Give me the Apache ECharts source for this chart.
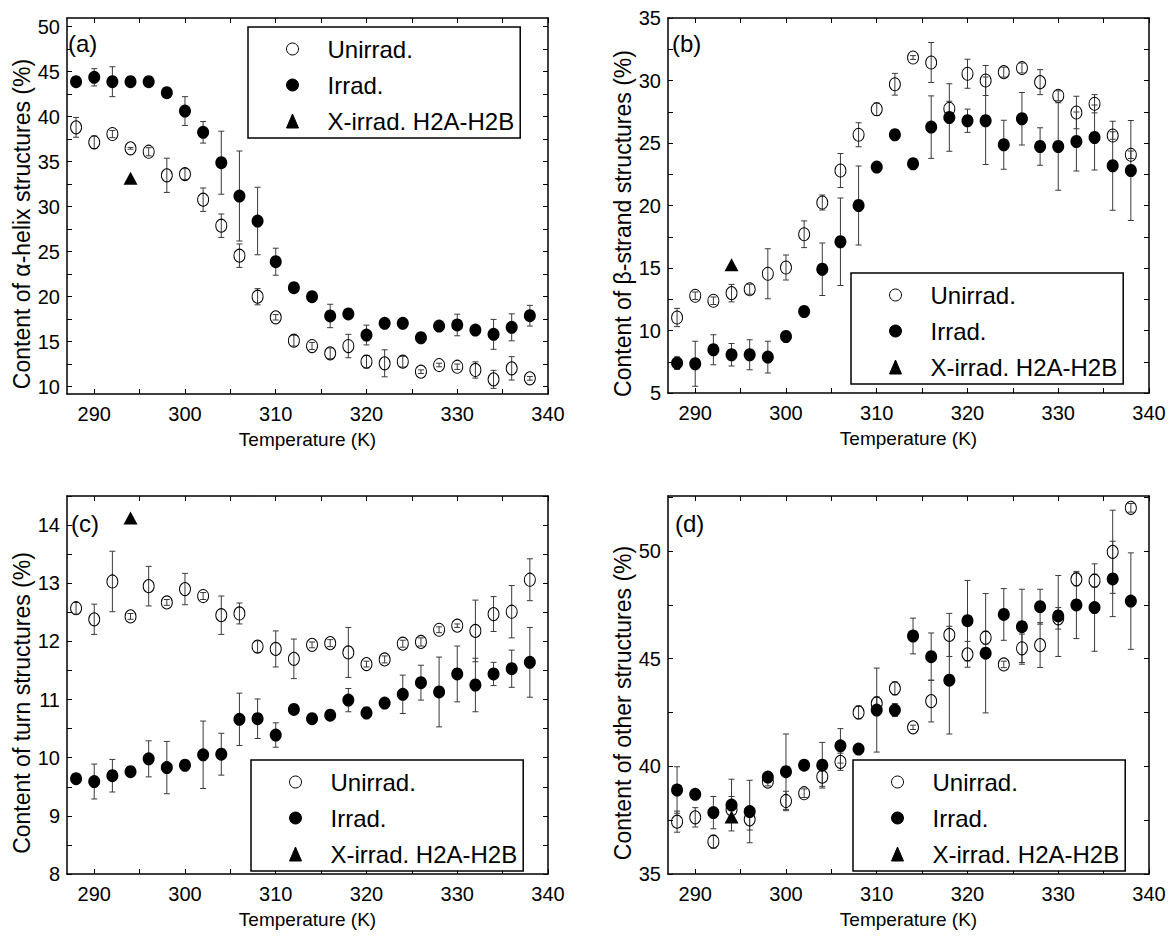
<!DOCTYPE html>
<html><head><meta charset="utf-8">
<script src="https://cdn.jsdelivr.net/npm/echarts@6/dist/echarts.min.js"></script>
<style>html,body{margin:0;padding:0;background:#fff}#c{width:1171px;height:945px}</style>
</head><body><div id="c"></div>
<script>
// ---------------- data ----------------
const temps = [288,290,292,294,296,298,300,302,304,306,308,310,312,314,316,318,320,322,324,326,328,330,332,334,336,338];
const xTickValues = [290,295,300,305,310,315,320,325,330,335,340];
const xLabelValues = [290,300,310,320,330,340];
const triangleTemp = 294;
const seriesNames = ['Unirrad.', 'Irrad.', 'X-irrad. H2A-H2B'];

// (a) alpha-helix
const aUnirrad    = [38.82,37.16,38.08,36.49,36.11,33.49,33.63,30.78,27.89,24.56,20.0,17.71,15.11,14.52,13.71,14.52,12.78,12.6,12.78,11.67,12.41,12.22,11.86,10.82,12.04,10.93];
const aUnirradErr = [1.1,0.7,0.4,0.1,0.45,1.9,0.6,1.3,1.3,1.3,0.9,0.3,0.6,0.4,0.6,1.3,0.7,1.5,0.6,0.2,0.2,0.3,0.9,1.0,1.3,0.2];
const aIrrad      = [43.89,44.38,43.89,43.89,43.89,42.67,40.63,38.27,34.89,31.19,28.41,23.89,21.0,20.0,17.86,18.08,15.74,17.04,17.04,15.44,16.74,16.86,16.3,15.82,16.6,17.89];
const aIrradErr   = [0.2,0.96,1.66,0.1,0.1,0.1,1.6,1.2,3.5,5.0,3.75,1.5,0.1,0.1,1.3,0.1,1.1,0.1,0.1,0.1,0.1,1.2,0.1,1.66,1.5,1.15];
const aTriangle   = 33.16;
const aYTicks  = [10,12.5,15,17.5,20,22.5,25,27.5,30,32.5,35,37.5,40,42.5,45,47.5,50];
const aYLabels = [10,15,20,25,30,35,40,45,50];

// (b) beta-strand
const bUnirrad    = [11.04,12.78,12.38,12.99,13.3,14.54,15.04,17.7,20.24,22.8,25.66,27.7,29.7,31.84,31.44,27.74,30.54,30.0,30.67,31.0,29.87,28.78,27.44,28.14,25.6,24.06];
const bUnirradErr = [0.73,0.3,0.3,0.7,0.4,2.0,1.0,1.07,0.6,1.36,0.96,0.5,0.87,0.15,1.6,0.6,1.16,1.2,0.4,0.4,1.0,0.4,1.3,0.73,0.3,0.3];
const bIrrad      = [7.39,7.34,8.46,8.06,8.06,7.87,9.52,11.52,14.9,17.1,20.0,23.07,25.66,23.34,26.27,27.04,26.78,26.78,24.86,26.94,24.72,24.72,25.12,25.44,23.18,22.8];
const bIrradErr   = [0.5,1.8,1.2,0.9,1.2,1.27,0.2,0.2,2.1,3.5,3.16,0.4,0.2,0.4,2.5,2.7,0.93,3.5,1.96,2.1,1.5,3.5,2.36,2.6,3.56,4.0];
const bTriangle   = 15.26;
const bYTicks  = [5,7.5,10,12.5,15,17.5,20,22.5,25,27.5,30,32.5,35];
const bYLabels = [5,10,15,20,25,30,35];

// (c) turn
const cUnirrad    = [12.57,12.38,13.03,12.43,12.95,12.67,12.9,12.78,12.45,12.48,11.91,11.87,11.7,11.94,11.97,11.81,11.61,11.69,11.96,11.99,12.2,12.27,12.18,12.47,12.51,13.06];
const cUnirradErr = [0.1,0.26,0.52,0.05,0.34,0.05,0.27,0.06,0.33,0.18,0.1,0.31,0.34,0.05,0.06,0.43,0.05,0.06,0.06,0.07,0.05,0.03,0.53,0.3,0.45,0.36];
const cIrrad      = [9.64,9.59,9.69,9.76,9.98,9.83,9.87,10.05,10.06,10.66,10.67,10.39,10.83,10.67,10.73,10.99,10.77,10.94,11.09,11.29,11.13,11.44,11.25,11.44,11.53,11.64];
const cIrradErr   = [0.05,0.3,0.28,0.05,0.31,0.45,0.05,0.58,0.36,0.45,0.34,0.21,0.05,0.05,0.05,0.2,0.1,0.05,0.33,0.3,0.6,0.48,0.46,0.2,0.32,0.6];
const cTriangle   = 14.12;
const cYTicks  = [8,8.5,9,9.5,10,10.5,11,11.5,12,12.5,13,13.5,14,14.5];
const cYLabels = [8,9,10,11,12,13,14];

// (d) other
const dUnirrad    = [37.43,37.63,36.5,38.0,37.54,39.29,38.39,38.75,39.52,40.21,42.5,42.92,43.62,41.81,43.03,46.1,45.2,45.97,44.73,45.48,45.63,46.87,48.68,48.62,49.96,52.0];
const dUnirradErr = [0.49,0.45,0.3,0.6,0.5,0.2,0.45,0.2,0.45,0.4,0.3,0.3,0.3,0.1,0.97,1.0,0.6,0.3,0.15,0.66,1.04,0.5,0.3,0.3,1.93,0.2];
const dIrrad      = [38.9,38.7,37.85,38.2,37.9,39.5,39.75,40.05,40.05,40.95,40.8,42.61,42.61,46.05,45.09,44.0,46.76,45.25,47.05,46.48,47.41,46.98,47.49,47.37,48.7,47.67];
const dIrradErr   = [1.08,0.2,0.75,1.2,1.45,0.2,1.75,0.2,1.06,0.8,0.2,1.95,0.3,0.83,1.1,2.5,1.87,2.77,1.2,1.74,0.81,1.88,1.56,2.03,1.75,2.24];
const dTriangle   = 37.65;
const dYTicks  = [35,37.5,40,42.5,45,47.5,50,52.5];
const dYLabels = [35,40,45,50];

// ---------------- layout / style ----------------
const FONT = "'Liberation Sans', Arial, sans-serif";
function hasFont(name){
  const ctx = document.createElement('canvas').getContext('2d');
  const s = 'X-irrad. H2A-H2B mmwwii';
  ctx.font = '40px monospace'; const a = ctx.measureText(s).width;
  ctx.font = '40px "' + name + '", monospace'; const b = ctx.measureText(s).width;
  return Math.abs(a - b) > 0.5;
}
const narrow = hasFont('Liberation Sans Narrow');
const LEG_FONT = narrow ? "'Liberation Sans Narrow', " + FONT : FONT;
const LEG_SIZE = narrow ? 28 : 24;
const LEG_GAP = narrow ? 8 : 12;
const LEG_PAD = narrow ? [8,6,3,38] : [10,6,5,38];

const panels = [
  {u:aUnirrad, ue:aUnirradErr, ir:aIrrad, ie:aIrradErr, tri:aTriangle, yT:aYTicks, yL:aYLabels,
   yMin:9.19, yMax:50.97, yName:'Content of \u03b1-helix structures (%)',
   grid:{left:67, top:18, width:481, height:376}, leg:{left:248, top:27}, lab:{text:'(a)', x:68, y:31}},
  {u:bUnirrad, ue:bUnirradErr, ir:bIrrad, ie:bIrradErr, tri:bTriangle, yT:bYTicks, yL:bYLabels,
   yMin:5, yMax:35, yName:'Content of \u03b2-strand structures (%)',
   grid:{left:668, top:18, width:481, height:375}, leg:{left:851, top:273}, lab:{text:'(b)', x:672, y:31}},
  {u:cUnirrad, ue:cUnirradErr, ir:cIrrad, ie:cIrradErr, tri:cTriangle, yT:cYTicks, yL:cYLabels,
   yMin:8, yMax:14.5, yName:'Content of turn structures (%)',
   grid:{left:67, top:496, width:481, height:378}, leg:{left:251, top:760}, lab:{text:'(c)', x:71, y:511}},
  {u:dUnirrad, ue:dUnirradErr, ir:dIrrad, ie:dIrradErr, tri:dTriangle, yT:dYTicks, yL:dYLabels,
   yMin:35, yMax:52.55, yName:'Content of other structures (%)',
   grid:{left:668, top:496, width:481, height:378}, leg:{left:853, top:760}, lab:{text:'(d)', x:675, y:511}}
];

function errRender(params, api){
  const x = api.value(0), lo = api.value(1), hi = api.value(2);
  const a = api.coord([x, lo]), b = api.coord([x, hi]);
  const w = 3, st = {stroke:'#3a3a3a', lineWidth:1};
  return {type:'group', children:[
    {type:'line', shape:{x1:a[0], y1:a[1], x2:b[0], y2:b[1]}, style:st},
    {type:'line', shape:{x1:a[0]-w, y1:a[1], x2:a[0]+w, y2:a[1]}, style:st},
    {type:'line', shape:{x1:b[0]-w, y1:b[1], x2:b[0]+w, y2:b[1]}, style:st}
  ]};
}

const axisLine = {show:true, onZero:false, lineStyle:{color:'#000', width:1.5}};
const grids = [], xAxes = [], yAxes = [], series = [], legends = [], graphics = [];

panels.forEach((p, i) => {
  grids.push(Object.assign({outerBoundsMode:'none', containLabel:false, show:false}, p.grid));
  const tickX = {show:true, inside:true, length:5, customValues:xTickValues, lineStyle:{color:'#000', width:1}};
  const tickY = {show:true, inside:true, length:5, customValues:p.yT, lineStyle:{color:'#000', width:1}};
  xAxes.push({type:'value', gridIndex:i, min:287, max:340, position:'bottom', axisLine, axisTick:tickX,
    axisLabel:{customValues:xLabelValues, margin:10, fontSize:20, color:'#000', fontFamily:FONT},
    splitLine:{show:false},
    name:'Temperature (K)', nameLocation:'middle', nameGap:36,
    nameTextStyle:{fontSize:19, color:'#000', fontFamily:FONT}});
  xAxes.push({type:'value', gridIndex:i, min:287, max:340, position:'top', axisLine, axisTick:tickX,
    axisLabel:{show:false}, splitLine:{show:false}});
  yAxes.push({type:'value', gridIndex:i, min:p.yMin, max:p.yMax, position:'left', axisLine, axisTick:tickY,
    axisLabel:{customValues:p.yL, margin:7, fontSize:20, color:'#000', fontFamily:FONT},
    splitLine:{show:false},
    name:p.yName, nameLocation:'middle', nameRotate:90, nameGap:30,
    nameTextStyle:{fontSize:23, color:'#000', fontFamily:FONT, padding:[0,36,0,0]}});
  yAxes.push({type:'value', gridIndex:i, min:p.yMin, max:p.yMax, position:'right', axisLine, axisTick:tickY,
    axisLabel:{show:false}, splitLine:{show:false}});

  const xi = 2*i, yi = 2*i;
  series.push({type:'custom', name:'errU'+i, xAxisIndex:xi, yAxisIndex:yi, renderItem:errRender, silent:true, z:1,
    encode:{x:0, y:[1,2]}, data:temps.map((t,j)=>[t, p.u[j]-p.ue[j], p.u[j]+p.ue[j]])});
  series.push({type:'custom', name:'errI'+i, xAxisIndex:xi, yAxisIndex:yi, renderItem:errRender, silent:true, z:1,
    encode:{x:0, y:[1,2]}, data:temps.map((t,j)=>[t, p.ir[j]-p.ie[j], p.ir[j]+p.ie[j]])});
  series.push({type:'scatter', name:seriesNames[0], xAxisIndex:xi, yAxisIndex:yi, z:2,
    symbol:'circle', symbolSize:[11,13],
    itemStyle:{color:'rgba(255,255,255,0)', borderColor:'#000', borderWidth:1, opacity:1},
    data:temps.map((t,j)=>[t, p.u[j]])});
  series.push({type:'scatter', name:seriesNames[1], xAxisIndex:xi, yAxisIndex:yi, z:3,
    symbol:'circle', symbolSize:[12,13], itemStyle:{color:'#000', opacity:1},
    data:temps.map((t,j)=>[t, p.ir[j]])});
  series.push({type:'scatter', name:seriesNames[2], xAxisIndex:xi, yAxisIndex:yi, z:4,
    symbol:'triangle', symbolSize:[14,13], itemStyle:{color:'#000', opacity:1},
    data:[[triangleTemp, p.tri]]});

  legends.push({left:p.leg.left, top:p.leg.top, orient:'vertical', data:seriesNames, selectedMode:false,
    padding:LEG_PAD, itemGap:LEG_GAP, itemWidth:12, itemHeight:14,
    borderColor:'#000', borderWidth:1.5, backgroundColor:'#fff',
    itemStyle:{borderWidth:1, borderColor:'#000'},
    textStyle:{fontSize:LEG_SIZE, color:'#000', fontFamily:LEG_FONT, padding:[0,0,0,24]}});

  graphics.push({type:'text', left:p.lab.x, top:p.lab.y,
    style:{text:p.lab.text, fontSize:24, fontFamily:FONT, fill:'#000'}});
});

const chart = echarts.init(document.getElementById('c'), null, {renderer:'svg'});
chart.setOption({
  animation:false,
  backgroundColor:'#fff',
  grid:grids, xAxis:xAxes, yAxis:yAxes, series:series, legend:legends, graphic:graphics
});
</script></body></html>
